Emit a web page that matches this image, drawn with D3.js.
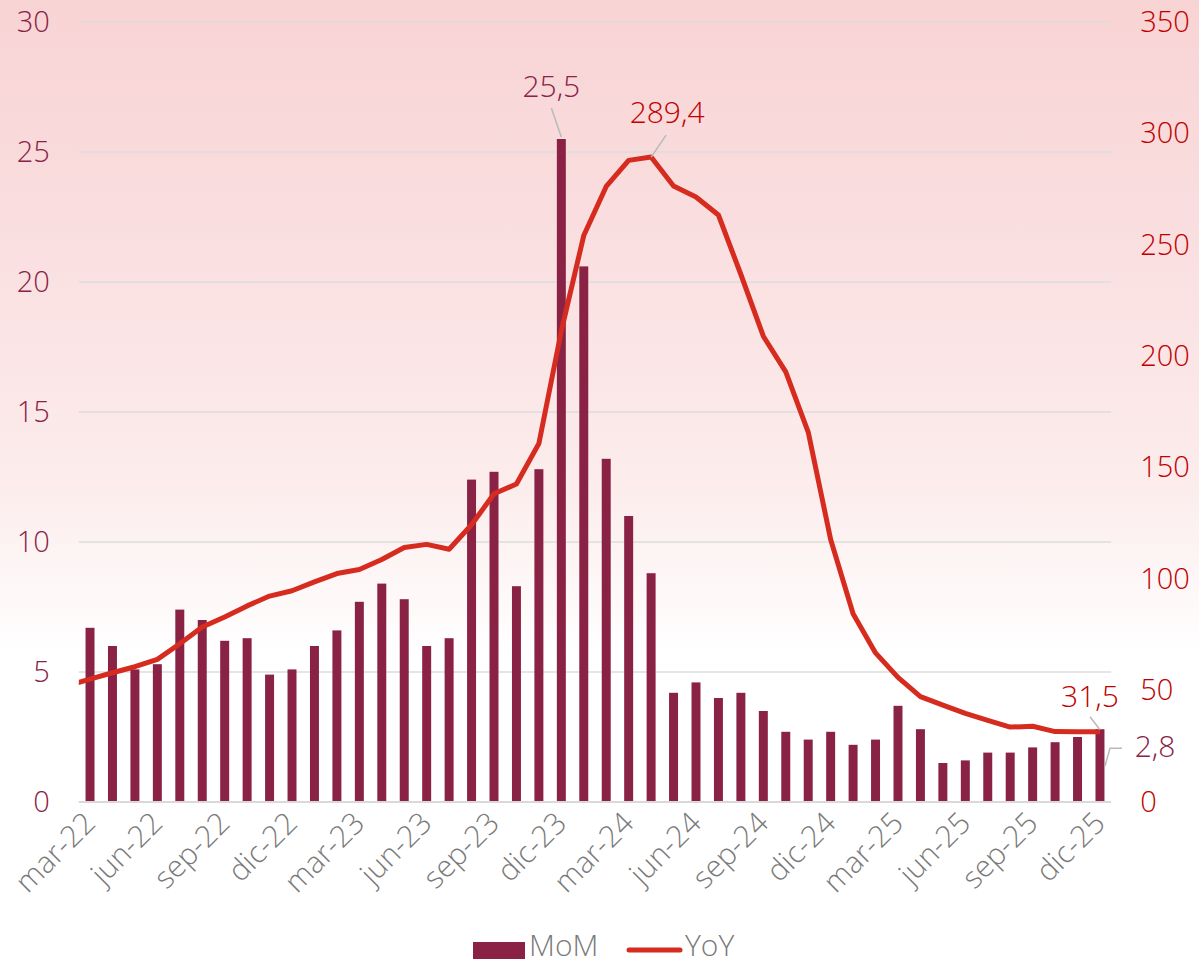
<!DOCTYPE html>
<html>
<head>
<meta charset="utf-8">
<script src="https://cdn.jsdelivr.net/npm/d3@7"></script>
<style>
  html, body { margin: 0; padding: 0; background: #ffffff; }
  svg { display: block; }
  text { font-family: "Open Sans", "Noto Sans", sans-serif; font-weight: 300; }
</style>
</head>
<body>
<svg id="chart" width="1199" height="965"></svg>
<script>
// Monthly categories, mar-22 .. dic-25
const months = [
  "mar-22","abr-22","may-22","jun-22","jul-22","ago-22","sep-22","oct-22","nov-22","dic-22",
  "ene-23","feb-23","mar-23","abr-23","may-23","jun-23","jul-23","ago-23","sep-23","oct-23","nov-23","dic-23",
  "ene-24","feb-24","mar-24","abr-24","may-24","jun-24","jul-24","ago-24","sep-24","oct-24","nov-24","dic-24",
  "ene-25","feb-25","mar-25","abr-25","may-25","jun-25","jul-25","ago-25","sep-25","oct-25","nov-25","dic-25"
];

// Month-over-month change (%)
const mom = [
  6.7, 6.0, 5.1, 5.3, 7.4, 7.0, 6.2, 6.3, 4.9, 5.1,
  6.0, 6.6, 7.7, 8.4, 7.8, 6.0, 6.3, 12.4, 12.7, 8.3, 12.8, 25.5,
  20.6, 13.2, 11.0, 8.8, 4.2, 4.6, 4.0, 4.2, 3.5, 2.7, 2.4, 2.7,
  2.2, 2.4, 3.7, 2.8, 1.5, 1.6, 1.9, 1.9, 2.1, 2.3, 2.5, 2.8
];

// Year-over-year change (%)
const yoy = [
  55.1, 58.0, 60.7, 64.0, 71.0, 78.5, 83.0, 88.0, 92.4, 94.8,
  98.8, 102.5, 104.3, 108.8, 114.2, 115.6, 113.4, 124.4, 138.3, 142.7, 160.9, 211.4,
  254.2, 276.2, 287.9, 289.4, 276.4, 271.5, 263.4, 236.7, 209.0, 193.0, 166.0, 117.8,
  84.5, 66.9, 55.9, 47.3, 43.5, 39.8, 36.6, 33.6, 34.0, 31.6, 31.5, 31.5
];
// YoY for the month before the first category (line enters from the plot edge)
const yoyPrev = 52.3;

const leftTicks = [0, 5, 10, 15, 20, 25, 30];
const rightTicks = [0, 50, 100, 150, 200, 250, 300, 350];
const xTickLabels = months.filter((m, i) => i % 3 === 0);

const colMoM = "#8a2246";
const colYoY = "#d62b1f";
const colRightAxis = "#c00000";
const colGrey = "#7a7a7a";

const svg = d3.select("#chart");
const W = 1199, H = 965;
const plot = { left: 78.8, right: 1111.2, top: 22, bottom: 802 };

// Background wash: pink at the top fading to white
const defs = svg.append("defs");
const grad = defs.append("linearGradient")
  .attr("id", "bg").attr("x1", 0).attr("y1", 0).attr("x2", 0).attr("y2", 1);
grad.append("stop").attr("offset", "0%").attr("stop-color", "#f8d3d4");
grad.append("stop").attr("offset", "25%").attr("stop-color", "#fadfe0");
grad.append("stop").attr("offset", "50%").attr("stop-color", "#fcecec");
grad.append("stop").attr("offset", "68%").attr("stop-color", "#ffffff");
grad.append("stop").attr("offset", "100%").attr("stop-color", "#ffffff");
svg.append("rect").attr("width", W).attr("height", H).attr("fill", "url(#bg)");

defs.append("clipPath").attr("id", "plotClip")
  .append("rect")
  .attr("x", plot.left).attr("y", 0)
  .attr("width", plot.right - plot.left).attr("height", H);

// Scales
const x = d3.scaleBand().domain(months)
  .range([plot.left, plot.right])
  .paddingInner(0.6).paddingOuter(0.3);
const cx = m => x(m) + x.bandwidth() / 2;
const yL = d3.scaleLinear().domain([0, 30]).range([plot.bottom, plot.top]);
const yR = d3.scaleLinear().domain([0, 350]).range([plot.bottom, plot.top]);

// Gridlines on the left-axis ticks
svg.append("g").selectAll("line")
  .data(leftTicks.filter(t => t > 0))
  .join("line")
  .attr("x1", plot.left).attr("x2", plot.right)
  .attr("y1", d => yL(d)).attr("y2", d => yL(d))
  .attr("stroke", "#dcdcdc").attr("stroke-width", 1.5);

// Left axis (MoM)
const axL = svg.append("g").attr("transform", `translate(${plot.left},0)`)
  .call(d3.axisLeft(yL).tickValues(leftTicks).tickSize(0).tickPadding(29).tickFormat(d3.format("d")));
axL.select(".domain").remove();
axL.selectAll("text").attr("fill", colMoM).style("font-size", "29px");

// Right axis (YoY)
const axR = svg.append("g").attr("transform", `translate(${plot.right},0)`)
  .call(d3.axisRight(yR).tickValues(rightTicks).tickSize(0).tickPadding(29).tickFormat(d3.format("d")));
axR.select(".domain").remove();
axR.selectAll("text").attr("fill", colRightAxis).style("font-size", "29px");

// Bars
svg.append("g").selectAll("rect")
  .data(months.map((m, i) => ({ m, v: mom[i] })))
  .join("rect")
  .attr("x", d => x(d.m))
  .attr("width", x.bandwidth())
  .attr("y", d => yL(d.v))
  .attr("height", d => yL(0) - yL(d.v))
  .attr("fill", colMoM);

// Category axis baseline
svg.append("line")
  .attr("x1", plot.left).attr("x2", plot.right)
  .attr("y1", plot.bottom).attr("y2", plot.bottom)
  .attr("stroke", "#d9d9d9").attr("stroke-width", 2);

// Category labels, every third month
const axX = svg.append("g").attr("transform", `translate(0,${plot.bottom})`)
  .call(d3.axisBottom(x).tickValues(xTickLabels).tickSize(0).tickPadding(0));
axX.select(".domain").remove();
axX.selectAll("text")
  .attr("fill", colGrey)
  .style("font-size", "30px")
  .attr("text-anchor", "end")
  .attr("dy", null)
  .attr("y", 0)
  .attr("transform", "translate(7,23) rotate(-45)");

// YoY line
const linePts = [{ px: cx(months[0]) - x.step(), v: yoyPrev }]
  .concat(months.map((m, i) => ({ px: cx(m), v: yoy[i] })));
svg.append("path")
  .datum(linePts)
  .attr("clip-path", "url(#plotClip)")
  .attr("fill", "none")
  .attr("stroke", colYoY)
  .attr("stroke-width", 5)
  .attr("stroke-linejoin", "round")
  .attr("d", d3.line().x(d => d.px).y(d => yR(d.v)));

// Value annotations with leader lines
const fmt = v => d3.format(".1f")(v).replace(".", ",");
const leader = "#b9b9b9";
const iMax = mom.indexOf(d3.max(mom));
const iYoyMax = yoy.indexOf(d3.max(yoy));
const iLast = months.length - 1;

function note(tx, ty, txt, color, path) {
  svg.append("path").attr("d", path)
    .attr("fill", "none").attr("stroke", leader).attr("stroke-width", 1.5);
  svg.append("text").attr("x", tx).attr("y", ty)
    .attr("text-anchor", "middle").attr("fill", color)
    .style("font-size", "30px").text(txt);
}

{
  const px = cx(months[iMax]), py = yL(mom[iMax]);
  note(px - 10, py - 42, fmt(mom[iMax]), colMoM,
    `M${px},${py - 2} L${px - 10},${py - 31}`);
}
{
  const px = cx(months[iYoyMax]), py = yR(yoy[iYoyMax]);
  note(px + 16, py - 34, fmt(yoy[iYoyMax]), colRightAxis,
    `M${px},${py} L${px + 15},${py - 22}`);
}
{
  const px = cx(months[iLast]), py = yR(yoy[iLast]);
  note(px - 10, py - 25, fmt(yoy[iLast]), colRightAxis,
    `M${px},${py - 2} L${px - 10},${py - 15}`);
}
{
  const px = cx(months[iLast]) + 5, py = yL(mom[iLast]);
  note(px + 50, py + 28, fmt(mom[iLast]), colMoM,
    `M${px},${py + 37} L${px + 5},${py + 19} L${px + 17},${py + 19}`);
}

// Legend
const lg = svg.append("g");
lg.append("rect").attr("x", 473).attr("y", 942).attr("width", 52).attr("height", 17).attr("fill", colMoM);
lg.append("text").attr("x", 529).attr("y", 956).attr("fill", colGrey).style("font-size", "30px").text("MoM");
lg.append("line").attr("x1", 629).attr("x2", 680).attr("y1", 950).attr("y2", 950)
  .attr("stroke", colYoY).attr("stroke-width", 5).attr("stroke-linecap", "round");
lg.append("text").attr("x", 685).attr("y", 956).attr("fill", colGrey).style("font-size", "30px").text("YoY");
</script>
</body>
</html>
